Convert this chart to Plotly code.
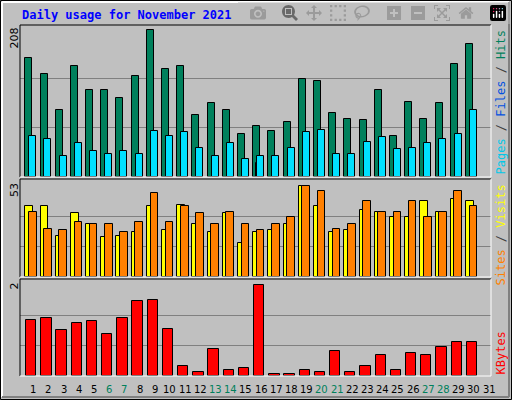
import plotly.graph_objects as go
import numpy as np

days = list(range(1, 32))
d30 = np.arange(1, 31)
hits = [168,146,95,157,123,123,111,143,208,153,156,87,104,94,60,72,65,77,139,135,91,82,81,123,58,106,82,105,159,188]
files = [58,53,29,48,37,33,36,32,65,58,64,41,30,48,26,29,30,41,64,67,32,33,50,57,40,41,48,53,60,94]
pages = [0,0,0,0,0,0,0,0,0,0,0,0,0,0,0,20,0,0,0,0,0,0,0,0,0,0,0,0,0,0]
sites = [41,41,24,37,31,23,24,26,41,27,42,31,26,37,20,26,27,31,53,41,26,27,39,38,35,35,44,38,45,44]
visits = [38,28,27,32,31,31,26,32,49,32,41,37,31,38,31,27,31,35,53,50,28,31,44,38,38,44,35,38,50,41]
kbytes = [1.23,1.26,1.01,1.15,1.21,0.93,1.26,1.65,1.67,1.04,0.23,0.09,0.60,0.14,0.18,2.0,0.04,0.04,0.14,0.09,0.55,0.09,0.23,0.45,0.14,0.51,0.47,0.64,0.75,0.75]
weekends = [6,7,13,14,20,21,27,28]

def y(p):
    return 1 - p / 400.0

X0, X1 = 20/512, 491/512
fig = go.Figure()
ln = dict(color="black", width=1)
fig.add_trace(go.Bar(x=d30 + 0.08, y=hits, width=0.46, marker=dict(color="#00805C", line=ln), xaxis="x", yaxis="y"))
fig.add_trace(go.Bar(x=d30 + 0.24, y=pages, width=0.46, marker=dict(color="#0000FF", line=ln), xaxis="x", yaxis="y"))
fig.add_trace(go.Bar(x=d30 + 0.34, y=files, width=0.46, marker=dict(color="#00E0FF", line=ln), xaxis="x", yaxis="y"))
fig.add_trace(go.Bar(x=d30 + 0.10, y=sites, width=0.50, marker=dict(color="#FFFF00", line=ln), xaxis="x2", yaxis="y2"))
fig.add_trace(go.Bar(x=d30 + 0.34, y=visits, width=0.50, marker=dict(color="#FF8000", line=ln), xaxis="x2", yaxis="y2"))
fig.add_trace(go.Bar(x=d30 + 0.24, y=kbytes, width=0.68, marker=dict(color="#FF0000", line=ln), xaxis="x3", yaxis="y3"))

xa = dict(range=[0.5, 31.5], visible=False, domain=[X0, X1])
def ya(dom, mx, top):
    return dict(domain=dom, range=[0, mx], tickvals=[top/3, 2*top/3], showticklabels=False,
                showgrid=True, gridcolor="#808080", gridwidth=1, zeroline=False, fixedrange=True)

fig.update_layout(
    width=512, height=400, margin=dict(l=0, r=0, t=0, b=0),
    paper_bgcolor="#C0C0C0", plot_bgcolor="#C0C0C0", showlegend=False,
    barmode="overlay", bargap=0,
    xaxis=dict(xa, anchor="y"), xaxis2=dict(xa, anchor="y2"), xaxis3=dict(xa, anchor="y3"),
    yaxis=dict(ya([y(177), y(25)], 214.5, 208), anchor="x"),
    yaxis2=dict(ya([y(277), y(180)], 56.3, 53), anchor="x2"),
    yaxis3=dict(ya([y(376), y(281)], 2.08, 2), anchor="x3"),
)

shapes = []
def rect(x0, y0, x1, y1, tl, br, w=1):
    shapes.append(dict(type="line", xref="paper", yref="paper", x0=x0/512, x1=x1/512, y0=y(y0), y1=y(y0), line=dict(color=tl, width=w)))
    shapes.append(dict(type="line", xref="paper", yref="paper", x0=x0/512, x1=x0/512, y0=y(y0), y1=y(y1), line=dict(color=tl, width=w)))
    shapes.append(dict(type="line", xref="paper", yref="paper", x0=x0/512, x1=x1/512, y0=y(y1), y1=y(y1), line=dict(color=br, width=w)))
    shapes.append(dict(type="line", xref="paper", yref="paper", x0=x1/512, x1=x1/512, y0=y(y0), y1=y(y1), line=dict(color=br, width=w)))
rect(0.5, 0.5, 511.5, 399.5, "black", "black")
rect(2, 2, 509, 397, "white", "#808080", 2)
for a, b in [(25, 177), (179, 277), (279, 376)]:
    rect(20, a, 491, b, "black", "white")
fig.update_layout(shapes=shapes)

ann = []
mono = "DejaVu Sans Mono"
ann.append(dict(text="<b>Daily usage for November 2021</b>", x=20/512, y=y(15), xanchor="left", yanchor="middle",
                font=dict(family=mono, size=12, color="#0000FF")))
for lab, py in [("208", 26), ("53", 181), ("2", 281)]:
    ann.append(dict(text=lab, x=14/512, y=y(py), textangle=-90, xanchor="center", yanchor="top",
                    font=dict(family="DejaVu Sans", size=11, color="black")))
ann.append(dict(text="<span style='color:#00C8E8'>Pages</span><span style='color:#404040'> / </span><span style='color:#0050E0'>Files</span><span style='color:#404040'> / </span><span style='color:#00805C'>Hits</span>",
                x=500/512, y=y(28), textangle=-90, xanchor="center", yanchor="top", font=dict(family=mono, size=12)))
ann.append(dict(text="<span style='color:#FF8000'>Sites</span><span style='color:#404040'> / </span><span style='color:#FFFF00'>Visits</span>",
                x=500/512, y=y(183), textangle=-90, xanchor="center", yanchor="top", font=dict(family=mono, size=12)))
ann.append(dict(text="KBytes", x=500/512, y=y(330), textangle=-90, xanchor="center", yanchor="top",
                font=dict(family=mono, size=12, color="#FF0000")))
for d in days:
    ann.append(dict(text=str(d), x=d + 0.37, xref="x3", y=y(389), yanchor="middle", xanchor="center",
                    font=dict(family="DejaVu Sans", size=10, color="#00805C" if d in weekends else "black")))
for a in ann:
    a.setdefault("xref", "paper"); a.setdefault("yref", "paper"); a["showarrow"] = False
fig.update_layout(annotations=ann)
fig.write_html("out.html", post_script="document.body.style.margin='0';document.body.style.overflow='hidden';")
